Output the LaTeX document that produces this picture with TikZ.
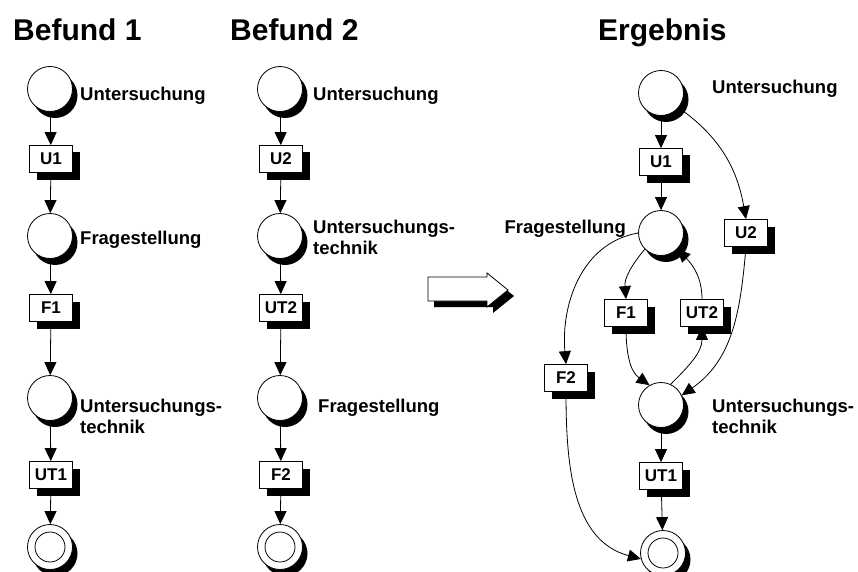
\documentclass[tikz,border=0pt]{standalone}
\usepackage{fontspec}
\setmainfont{Liberation Sans}
\usetikzlibrary{arrows.meta,shadows}
\begin{document}
\begin{tikzpicture}[x=1pt,y=1pt,
  place/.style={circle,draw=black,line width=0.8pt,fill=white,minimum size=45pt,inner sep=0pt,
    drop shadow={shadow xshift=5pt,shadow yshift=-6.5pt,opacity=1,fill=black}},
  endplace/.style={place,
    path picture={\draw[line width=0.8pt] (path picture bounding box.center) circle[radius=15pt];}},
  trans/.style={rectangle,draw=black,line width=0.8pt,fill=white,minimum width=43pt,minimum height=27pt,
    inner sep=0pt,font=\fontsize{17}{17}\selectfont\bfseries,
    drop shadow={shadow xshift=7pt,shadow yshift=-7pt,opacity=1,fill=black}},
  lbl/.style={font=\fontsize{18.5}{21}\selectfont\bfseries,inner sep=0pt,align=left},
  heading/.style={font=\fontsize{30}{30}\selectfont\bfseries,inner sep=0pt,anchor=base west},
  arc/.style={-{Triangle[length=13pt,width=12pt]},line width=0.8pt},
]
\useasboundingbox (0,0) rectangle (858,-572);

% ---------- headings ----------
\node[heading] (h1) at (13,-41) {Befund 1};
\node[heading] (h2) at (230,-41) {Befund 2};
\node[heading] (h3) at (598,-41) {Ergebnis};

% ---------- Befund 1 ----------
\node[place] (a1) at (50,-89) {};
\node[trans] (a2) at (51,-159) {U1};
\node[place] (a3) at (50,-236) {};
\node[trans] (a4) at (51,-308) {F1};
\node[place] (a5) at (50,-398) {};
\node[trans] (a6) at (51,-475) {UT1};
\node[endplace] (a7) at (50,-547) {};

\node[lbl,anchor=base west] (la1) at (80,-101) {Untersuchung};
\node[lbl,anchor=base west] (la3) at (80,-244) {Fragestellung};
\node[lbl,anchor=north west] (la5) at (80,-398.5) {Untersuchungs-\\technik};

\draw[arc] (a1) -- (a2);
\draw[arc] (a2) -- (a3);
\draw[arc] (a3) -- (a4);
\draw[arc] (a4) -- (a5);
\draw[arc] (a5) -- (a6);
\draw[arc] (a6) -- (a7);

% ---------- Befund 2 ----------
\node[place] (b1) at (280,-89) {};
\node[trans] (b2) at (281,-159) {U2};
\node[place] (b3) at (280,-236) {};
\node[trans] (b4) at (281,-308) {UT2};
\node[place] (b5) at (280,-398) {};
\node[trans] (b6) at (281,-475) {F2};
\node[endplace] (b7) at (280,-547) {};

\node[lbl,anchor=base west] (lb1) at (313,-101) {Untersuchung};
\node[lbl,anchor=north west] (lb3) at (313,-219.5) {Untersuchungs-\\technik};
\node[lbl,anchor=base west] (lb5) at (318,-412) {Fragestellung};

\draw[arc] (b1) -- (b2);
\draw[arc] (b2) -- (b3);
\draw[arc] (b3) -- (b4);
\draw[arc] (b4) -- (b5);
\draw[arc] (b5) -- (b6);
\draw[arc] (b6) -- (b7);

% ---------- hollow block arrow with its shadow ----------
\fill[black] (434,-283) -- (493,-283) -- (493,-279) -- (514,-296) -- (493,-313)
  -- (493,-307) -- (434,-307) -- cycle;
\draw[line width=0.8pt,fill=white] (428,-277) -- (487,-277) -- (487,-273) -- (508,-290)
  -- (487,-307) -- (487,-301) -- (428,-301) -- cycle;

% ---------- Ergebnis ----------
\node[place] (c1) at (661,-93) {};
\node[trans] (c2) at (661,-162) {U1};
\node[place] (c3) at (661,-233) {};
\node[trans] (c4) at (746,-233) {U2};
\node[trans] (c5) at (626,-313) {F1};
\node[trans] (c6) at (702,-313) {UT2};
\node[trans] (c7) at (566,-378) {F2};
\node[place] (c8) at (661,-405) {};
\node[trans] (c9) at (661,-476) {UT1};
\node[endplace] (c10) at (663,-553) {};

\node[lbl,anchor=base west] (lc1) at (712,-94) {Untersuchung};
\node[lbl,anchor=base east] (lc3) at (626,-233) {Fragestellung};
\node[lbl,anchor=north west] (lc8) at (712,-398.5) {Untersuchungs-\\technik};

\draw[arc] (c1) -- (c2);
\draw[arc] (c2) -- (c3);
\draw[arc] (c1.-40) to[out=-35,in=100] (c4.north);
\draw[arc] (c4.south) to[out=-95,in=35] (c8.25);
\draw[arc] (c3.west) to[out=190,in=95] (c7.north);
\draw[arc] (c3.225) to[out=-130,in=95] (c5.north);
\draw[arc] (c5.south) to[out=-90,in=145] (c8.120);
\draw[arc] (c8.65) to[out=45,in=-90] (c6.south);
\draw[arc] (c6.north) to[out=90,in=-45] (c3.-45);
\draw[arc] (c8) -- (c9);
\draw[arc] (c9) -- (c10);
\draw[arc] (c7.south) to[out=-90,in=165] (c10.195);
\end{tikzpicture}
\end{document}
